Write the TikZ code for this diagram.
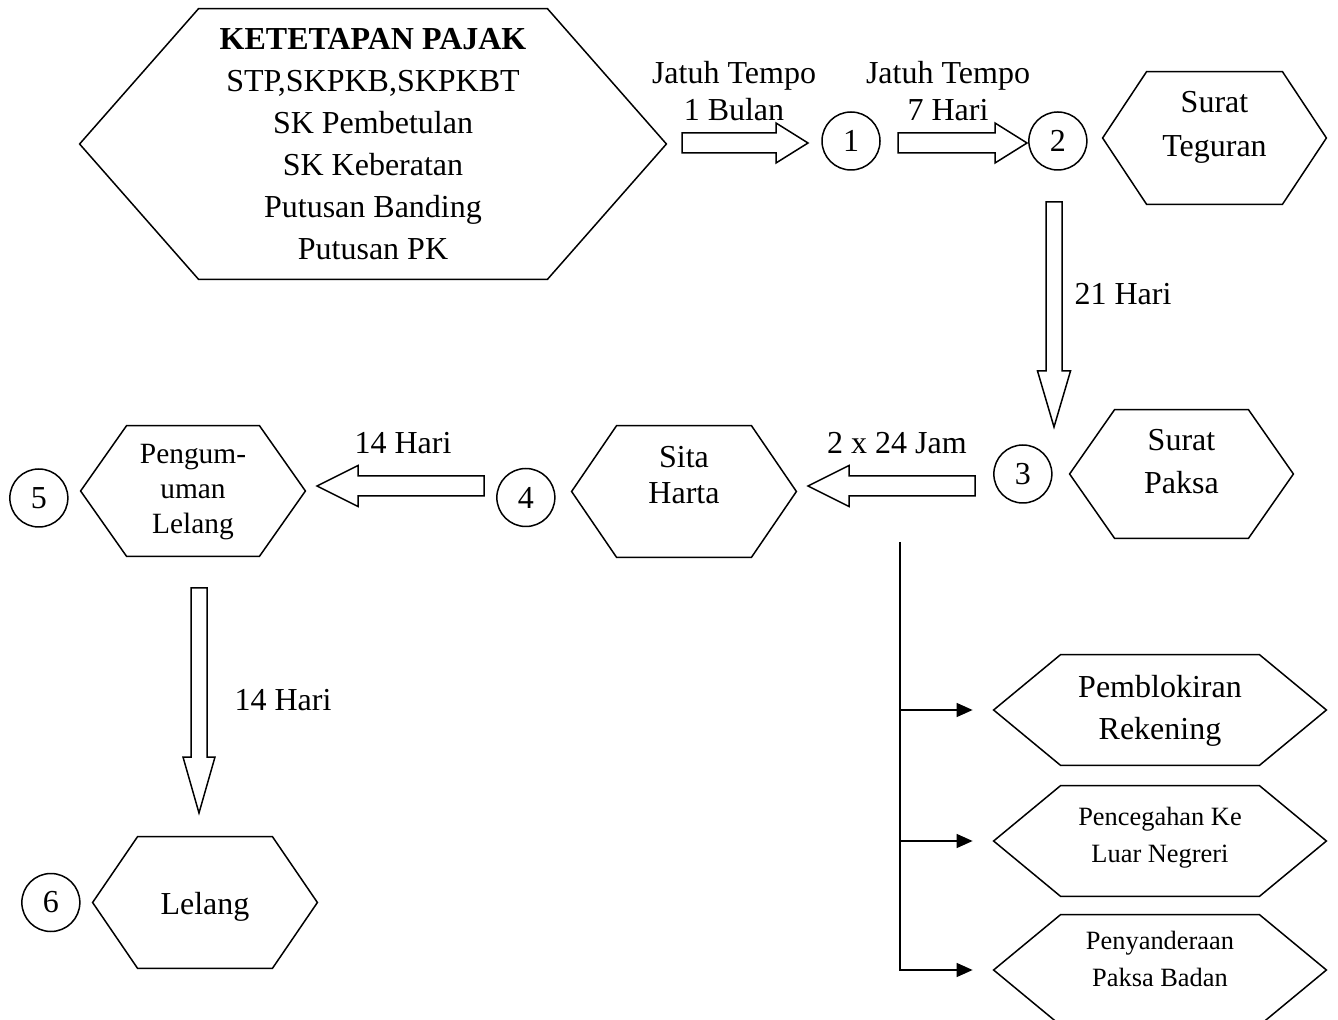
\documentclass[tikz,border=0pt]{standalone}
\usepackage{fontspec}
\setmainfont{Liberation Serif}
\usetikzlibrary{arrows.meta,positioning,calc}

\tikzset{
  garis/.style={line width=0.75pt},
  hexnode/.style={rectangle, inner sep=0pt},
  hextext/.style={align=center, inner sep=0pt, font=\fontsize{16}{21}\selectfont},
  bulat/.style={circle, draw, line width=0.75pt, minimum size=29pt, inner sep=0pt,
    font=\fontsize{16}{19}\selectfont},
  teks/.style={align=center, inner sep=0pt, font=\fontsize{16}{18.5}\selectfont},
  panahblok/.style={draw, line width=0.75pt, fill=white, line join=miter},
  cabang/.style={line width=0.75pt, -{Triangle[length=8pt, width=7pt]}}
}
% hexagon: name, centre, width, height, inset, text options, text
\newcommand{\Hexa}[7]{%
  \node[hexnode, minimum width=#3, minimum height=#4] (#1) at (#2) {};
  \draw[garis] (#1.west) -- ([xshift=#5]#1.north west) -- ([xshift=-#5]#1.north east)
    -- (#1.east) -- ([xshift=-#5]#1.south east) -- ([xshift=#5]#1.south west) -- cycle;
  \node[hextext, #6] (#1-teks) at (#1.center) {#7};}
% hollow block arrow: from, to, shaft half width, head half width, head length
\newcommand{\Panah}[5]{%
  \draw[panahblok] let \p1=(#1), \p2=(#2),
      \n1={atan2(\y2-\y1,\x2-\x1)}, \n2={veclen(\x2-\x1,\y2-\y1)-#5} in
    ($(\p1)+(\n1+90:#3)$) -- ($(\p1)+(\n1:{\n2*1pt})+(\n1+90:#3)$)
    -- ($(\p1)+(\n1:{\n2*1pt})+(\n1+90:#4)$) -- (\p2)
    -- ($(\p1)+(\n1:{\n2*1pt})+(\n1-90:#4)$) -- ($(\p1)+(\n1:{\n2*1pt})+(\n1-90:#3)$)
    -- ($(\p1)+(\n1-90:#3)$) -- cycle;}

\begin{document}
\begin{tikzpicture}[x=0.5pt, y=-0.5pt]
    \useasboundingbox (0,0) rectangle (1338,1020);
    \clip (0,0) rectangle (1338,1020);

    % hexagons
    \Hexa{pajak}{373,144}{293pt}{135pt}{59.5pt}{}{\textbf{KETETAPAN PAJAK}\\STP,SKPKB,SKPKBT\\SK Pembetulan\\SK Keberatan\\Putusan Banding\\Putusan PK}
    \Hexa{teguran}{1214.5,138}{111.5pt}{66pt}{22pt}{yshift=5.5pt, font=\fontsize{16}{22}\selectfont}{Surat\\Teguran}
    \Hexa{paksa}{1181.5,474}{111.5pt}{64pt}{22.5pt}{yshift=6pt, font=\fontsize{16}{21.5}\selectfont}{Surat\\Paksa}
    \Hexa{sita}{684,491.5}{112pt}{65.5pt}{22.5pt}{yshift=8pt, font=\fontsize{16}{18}\selectfont}{Sita\\Harta}
    \Hexa{umum}{193,491}{112pt}{65pt}{23pt}{yshift=-0.5pt, font=\fontsize{14.7}{17.3}\selectfont}{Pengum-\\uman\\Lelang}
    \Hexa{lelang}{205,902.5}{112pt}{65.5pt}{22.5pt}{yshift=-2pt}{Lelang}
    \Hexa{blokir}{1160,710}{166pt}{55pt}{33.5pt}{yshift=-0.5pt}{Pemblokiran\\Rekening}
    \Hexa{cegah}{1160,841}{166pt}{55pt}{33.5pt}{yshift=1.75pt, font=\fontsize{13.2}{18.5}\selectfont}{Pencegahan Ke\\Luar Negreri}
    \Hexa{sandera}{1160,970}{166pt}{55pt}{33.5pt}{yshift=5.75pt, font=\fontsize{13.2}{18.5}\selectfont}{Penyanderaan\\Paksa Badan}

    % numbered steps
    \node[bulat] (c1) at (851,141) {1};
    \node[bulat, left=7.5pt of teguran, yshift=-1.5pt] (c2) {2};
    \node[bulat, left=8.5pt of paksa] (c3) {3};
    \node[bulat, left=8pt of sita, yshift=-3pt] (c4) {4};
    \node[bulat, left=6pt of umum, yshift=-3.5pt] (c5) {5};
    \node[bulat, left=6pt of lelang] (c6) {6};

    % block arrows
    \coordinate (p1a) at (682,143);  \coordinate (p1b) at (808,143);
    \coordinate (p2a) at (898,143);  \coordinate (p2b) at (1027,143);
    \coordinate (p3a) at (1054,202); \coordinate (p3b) at (1054,427);
    \coordinate (p4a) at (975,486);  \coordinate (p4b) at (808,486);
    \coordinate (p5a) at (484,486);  \coordinate (p5b) at (317,486);
    \coordinate (p6a) at (199,588);  \coordinate (p6b) at (199,813);
    \Panah{p1a}{p1b}{5pt}{10pt}{16pt}
    \Panah{p2a}{p2b}{5pt}{10pt}{16pt}
    \Panah{p3a}{p3b}{4pt}{8.25pt}{28pt}
    \Panah{p4a}{p4b}{5pt}{10.25pt}{20.5pt}
    \Panah{p5a}{p5b}{5pt}{10.25pt}{20.5pt}
    \Panah{p6a}{p6b}{4pt}{8pt}{28pt}

    % labels
    \node[teks] (tempo1) at (734,91) {Jatuh Tempo\\1 Bulan};
    \node[teks] (tempo2) at (948,91) {Jatuh Tempo\\7 Hari};
    \node[teks] (hari21) at (1123,294) {21 Hari};
    \node[teks] (jam48) at (897,443) {2 x 24 Jam};
    \node[teks] (hari14a) at (403,443) {14 Hari};
    \node[teks] (hari14b) at (283,700) {14 Hari};

    % branches
    \coordinate (pangkal) at (900,542);
    \draw[cabang] (pangkal) |- ([xshift=-10.5pt]sandera.west);
    \draw[cabang] (pangkal |- blokir.west) -- ([xshift=-10.5pt]blokir.west);
    \draw[cabang] (pangkal |- cegah.west) -- ([xshift=-10.5pt]cegah.west);
\end{tikzpicture}
\end{document}
